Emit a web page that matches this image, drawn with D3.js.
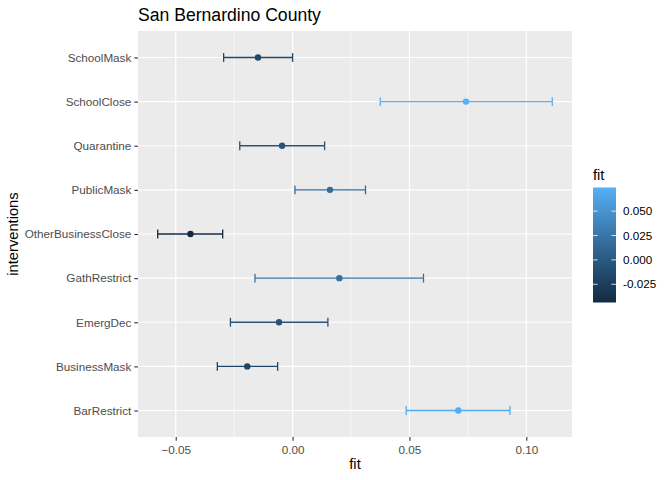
<!DOCTYPE html>
<html>
<head>
<meta charset="utf-8">
<script src="https://cdn.jsdelivr.net/npm/d3@7"></script>
<style>
  body { margin: 0; background: #fff; }
  text { font-family: "Liberation Sans", Arial, Helvetica, sans-serif; }
</style>
</head>
<body>
<svg id="chart" width="672" height="480"></svg>
<script>
// interventions, listed bottom to top as on the chart
var interventions = ["BarRestrict", "BusinessMask", "EmergDec", "GathRestrict",
  "OtherBusinessClose", "PublicMask", "Quarantine", "SchoolClose", "SchoolMask"];
var fit   = [0.0709, -0.0194, -0.0058, 0.0200, -0.0437, 0.0160, -0.0045, 0.0742, -0.0148];
var lower = [0.0486, -0.0322, -0.0266, -0.0161, -0.0577, 0.0010, -0.0226, 0.0375, -0.0295];
var upper = [0.0930, -0.0064, 0.0151, 0.0560, -0.0299, 0.0312, 0.0137, 0.1111, 0.0000];
var xTicks = [-0.05, 0.00, 0.05, 0.10];
var xMinor = [-0.025, 0.025, 0.075];
var legendTicks = [-0.025, 0.000, 0.025, 0.050];

var svg = d3.select("#chart");
var panel = {left: 138, right: 572, top: 31, bottom: 437};

//Build rows from the arrays
var rows = interventions.map(function(name, i) {
    return {name: name, fit: fit[i], lower: lower[i], upper: upper[i]};
});

//x scale with ggplot style 5% expansion
var lo = d3.min(lower), hi = d3.max(upper);
var pad = (hi - lo) * 0.05;
var x = d3.scaleLinear().domain([lo - pad, hi + pad]).range([panel.left, panel.right]);

var y = d3.scalePoint().domain(interventions).range([panel.bottom, panel.top]).padding(0.6);

var color = d3.scaleLinear()
    .domain(d3.extent(fit))
    .range(["#132B43", "#56B1F7"])
    .interpolate(d3.interpolateLab);

//Panel background
svg.append("rect")
    .attr("x", panel.left).attr("y", panel.top)
    .attr("width", panel.right - panel.left).attr("height", panel.bottom - panel.top)
    .attr("fill", "#EBEBEB");

//Grid lines
svg.selectAll(".minor").data(xMinor).enter().append("line")
    .attr("x1", d => x(d)).attr("x2", d => x(d))
    .attr("y1", panel.top).attr("y2", panel.bottom)
    .attr("stroke", "#fff").attr("stroke-width", 0.6);

svg.selectAll(".majorx").data(xTicks).enter().append("line")
    .attr("x1", d => x(d)).attr("x2", d => x(d))
    .attr("y1", panel.top).attr("y2", panel.bottom)
    .attr("stroke", "#fff").attr("stroke-width", 1.2);

svg.selectAll(".majory").data(interventions).enter().append("line")
    .attr("x1", panel.left).attr("x2", panel.right)
    .attr("y1", d => y(d)).attr("y2", d => y(d))
    .attr("stroke", "#fff").attr("stroke-width", 1.2);

//Axes
var xAxis = svg.append("g")
    .attr("transform", "translate(0," + panel.bottom + ")")
    .call(d3.axisBottom(x).tickValues(xTicks).tickSize(3.7).tickPadding(3).tickFormat(d3.format(".2f")));
var yAxis = svg.append("g")
    .attr("transform", "translate(" + panel.left + ",0)")
    .call(d3.axisLeft(y).tickSize(3.7).tickPadding(3));

[xAxis, yAxis].forEach(function(ax) {
    ax.select(".domain").remove();
    ax.selectAll(".tick line").attr("stroke", "#333333").attr("stroke-width", 1.1);
    ax.selectAll(".tick text").attr("fill", "#4D4D4D")
        .style("font-size", "11.7px");
});
xAxis.selectAll(".tick text").attr("dy", "0.9em");

//Error bars
var capHalf = y.step() * 0.1;
var bars = svg.selectAll(".bar").data(rows).enter().append("g")
    .attr("stroke", d => color(d.fit)).attr("stroke-width", 1.3);
bars.append("line")
    .attr("x1", d => x(d.lower)).attr("x2", d => x(d.upper))
    .attr("y1", d => y(d.name)).attr("y2", d => y(d.name));
bars.append("line")
    .attr("x1", d => x(d.lower)).attr("x2", d => x(d.lower))
    .attr("y1", d => y(d.name) - capHalf).attr("y2", d => y(d.name) + capHalf);
bars.append("line")
    .attr("x1", d => x(d.upper)).attr("x2", d => x(d.upper))
    .attr("y1", d => y(d.name) - capHalf).attr("y2", d => y(d.name) + capHalf);

//Points
svg.selectAll(".pt").data(rows).enter().append("circle")
    .attr("cx", d => x(d.fit)).attr("cy", d => y(d.name))
    .attr("r", 3.2).attr("fill", d => color(d.fit));

//Titles
svg.append("text").attr("x", panel.left).attr("y", 21)
    .style("font-size", "17.6px").attr("fill", "#000").text("San Bernardino County");
svg.append("text").attr("x", (panel.left + panel.right) / 2).attr("y", 469)
    .attr("text-anchor", "middle").style("font-size", "14.7px").text("fit");
svg.append("text")
    .attr("transform", "translate(18," + ((panel.top + panel.bottom) / 2) + ") rotate(-90)")
    .attr("text-anchor", "middle").style("font-size", "14.7px").text("interventions");

//Colour bar legend
var bar = {x: 593, w: 23, top: 187.5, bottom: 302.5};
var ly = d3.scaleLinear().domain(d3.extent(fit)).range([bar.bottom, bar.top]);
var grad = svg.append("defs").append("linearGradient")
    .attr("id", "fitgrad").attr("x1", 0).attr("y1", 1).attr("x2", 0).attr("y2", 0);
d3.range(0, 1.0001, 0.1).forEach(function(t) {
    grad.append("stop").attr("offset", t)
        .attr("stop-color", color(ly.domain()[0] + t * (ly.domain()[1] - ly.domain()[0])));
});
svg.append("rect")
    .attr("x", bar.x).attr("y", bar.top)
    .attr("width", bar.w).attr("height", bar.bottom - bar.top)
    .attr("fill", "url(#fitgrad)");
var lt = svg.selectAll(".lt").data(legendTicks).enter().append("g");
lt.append("line").attr("x1", bar.x).attr("x2", bar.x + bar.w / 5)
    .attr("y1", d => ly(d)).attr("y2", d => ly(d)).attr("stroke", "#fff").attr("stroke-width", 0.8);
lt.append("line").attr("x1", bar.x + bar.w * 4 / 5).attr("x2", bar.x + bar.w)
    .attr("y1", d => ly(d)).attr("y2", d => ly(d)).attr("stroke", "#fff").attr("stroke-width", 0.8);
lt.append("text").attr("x", bar.x + bar.w + 7).attr("y", d => ly(d))
    .attr("dy", "0.35em").style("font-size", "11.7px").attr("fill", "#000")
    .text(d => d3.format(".3f")(d).replace("−", "-"));
svg.append("text").attr("x", bar.x).attr("y", 180)
    .style("font-size", "14.7px").text("fit");
</script>
</body>
</html>
